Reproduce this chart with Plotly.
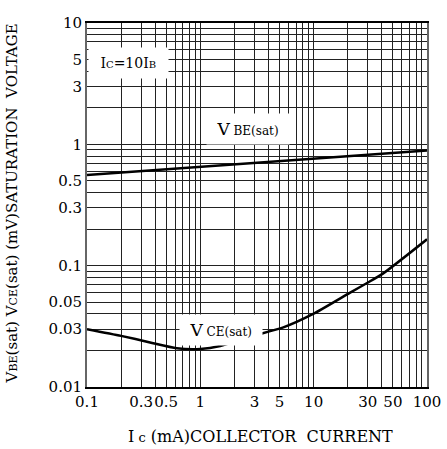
import numpy as np
import plotly.graph_objects as go

# ---- data ----
ic_vbe = [0.1, 1, 10, 100]
vbe_sat = [0.56, 0.655, 0.76, 0.89]

ic_vce = [0.1, 0.2, 0.36, 0.62, 1.0, 1.5, 2.75, 5.4, 9.9, 21, 29.6, 40.8, 100]
vce_sat = [0.030, 0.0264, 0.0233, 0.0209, 0.0206, 0.0218, 0.026, 0.031, 0.040, 0.060, 0.072, 0.086, 0.165]

x_tick_vals = [0.1, 0.3, 0.5, 1, 3, 5, 10, 30, 50, 100]
x_tick_text = ["0.1", "0.3", "0.5", "1", "3", "5", "10", "30", "50", "100"]
y_tick_vals = [0.01, 0.03, 0.05, 0.1, 0.3, 0.5, 1, 3, 5, 10]
y_tick_text = ["0.01", "0.03", "0.05", "0.1", "0.3", "0.5", "1", "3", "5", "10"]

FONT = "DejaVu Serif"

def grid_vals(lo_exp, hi_exp):
    vals = []
    for e in range(lo_exp, hi_exp):
        for m in range(1, 10):
            vals.append(m * 10.0 ** e)
    vals.append(10.0 ** hi_exp)
    return vals

def labelled(vals, tv, tt):
    out = []
    for v in vals:
        lab = ""
        for a, b in zip(tv, tt):
            if abs(np.log10(v) - np.log10(a)) < 1e-6:
                lab = b
        out.append(lab)
    return out

xg = grid_vals(-1, 2)
yg = grid_vals(-2, 1)

fig = go.Figure()
fig.add_trace(go.Scatter(x=ic_vbe, y=vbe_sat, mode="lines",
                         line=dict(color="black", width=2.5), showlegend=False, hoverinfo="skip"))
fig.add_trace(go.Scatter(x=ic_vce, y=vce_sat, mode="lines", line_shape="spline",
                         line=dict(color="black", width=2.5, smoothing=0.6), showlegend=False,
                         hoverinfo="skip"))

fig.update_layout(
    width=447, height=449,
    margin=dict(l=87, r=20, t=23, b=62),
    paper_bgcolor="white", plot_bgcolor="white",
    font=dict(family=FONT, color="black", size=15),
    xaxis=dict(type="log", range=[-1, 2], tickmode="array",
               tickvals=xg, ticktext=labelled(xg, x_tick_vals, x_tick_text),
               showgrid=True, gridcolor="#222", gridwidth=1, tickangle=0, automargin=False,
               ticks="", showline=True, linecolor="black", linewidth=1.5, mirror=True,
               tickfont=dict(family=FONT, size=15), zeroline=False),
    yaxis=dict(type="log", range=[-2, 1], tickmode="array",
               tickvals=yg, ticktext=labelled(yg, y_tick_vals, y_tick_text),
               showgrid=True, gridcolor="#222", gridwidth=1, automargin=False,
               ticks="", showline=True, linecolor="#666", linewidth=2, mirror=True,
               tickfont=dict(family=FONT, size=15), zeroline=False),
)

fig.add_annotation(xref="paper", yref="paper", x=0.004, y=0.89, xanchor="left", yanchor="middle",
                   text="\u00a0I<span style='font-size:10px'>C</span>=10I<span style='font-size:10px'>B</span>\u00a0",
                   showarrow=False, bgcolor="white", borderpad=7, font=dict(family=FONT, size=14))
fig.add_annotation(xref="paper", yref="paper", x=0.474, y=0.709, xanchor="center", yanchor="middle",
                   text="\u00a0V<span style='font-size:12px'> BE(sat)</span>\u00a0",
                   showarrow=False, bgcolor="white", borderpad=5, font=dict(family=FONT, size=17))
fig.add_annotation(xref="paper", yref="paper", x=0.394, y=0.157, xanchor="center", yanchor="middle",
                   text="\u00a0V<span style='font-size:12px'> CE(sat)</span>\u00a0",
                   showarrow=False, bgcolor="white", borderpad=5, font=dict(family=FONT, size=17))

# axis titles
fig.add_annotation(xref="paper", yref="paper", x=0.509, y=-0.137, xanchor="center", yanchor="middle",
                   text="I<span style='font-size:13px'>\u00a0c</span> (mA)COLLECTOR\u00a0\u00a0CURRENT",
                   showarrow=False, font=dict(family=FONT, size=16))
fig.add_annotation(xref="paper", yref="paper", x=-0.22, y=0.505, xanchor="center", yanchor="middle",
                   textangle=-90,
                   text="V<span style='font-size:11px'>BE</span>(sat) V<span style='font-size:11px'>CE</span>(sat) (mV)SATURATION\u00a0\u00a0VOLTAGE",
                   showarrow=False, font=dict(family=FONT, size=15))

fig.write_html("out.html", config={"displayModeBar": False},
               post_script="document.body.style.margin='0';")
